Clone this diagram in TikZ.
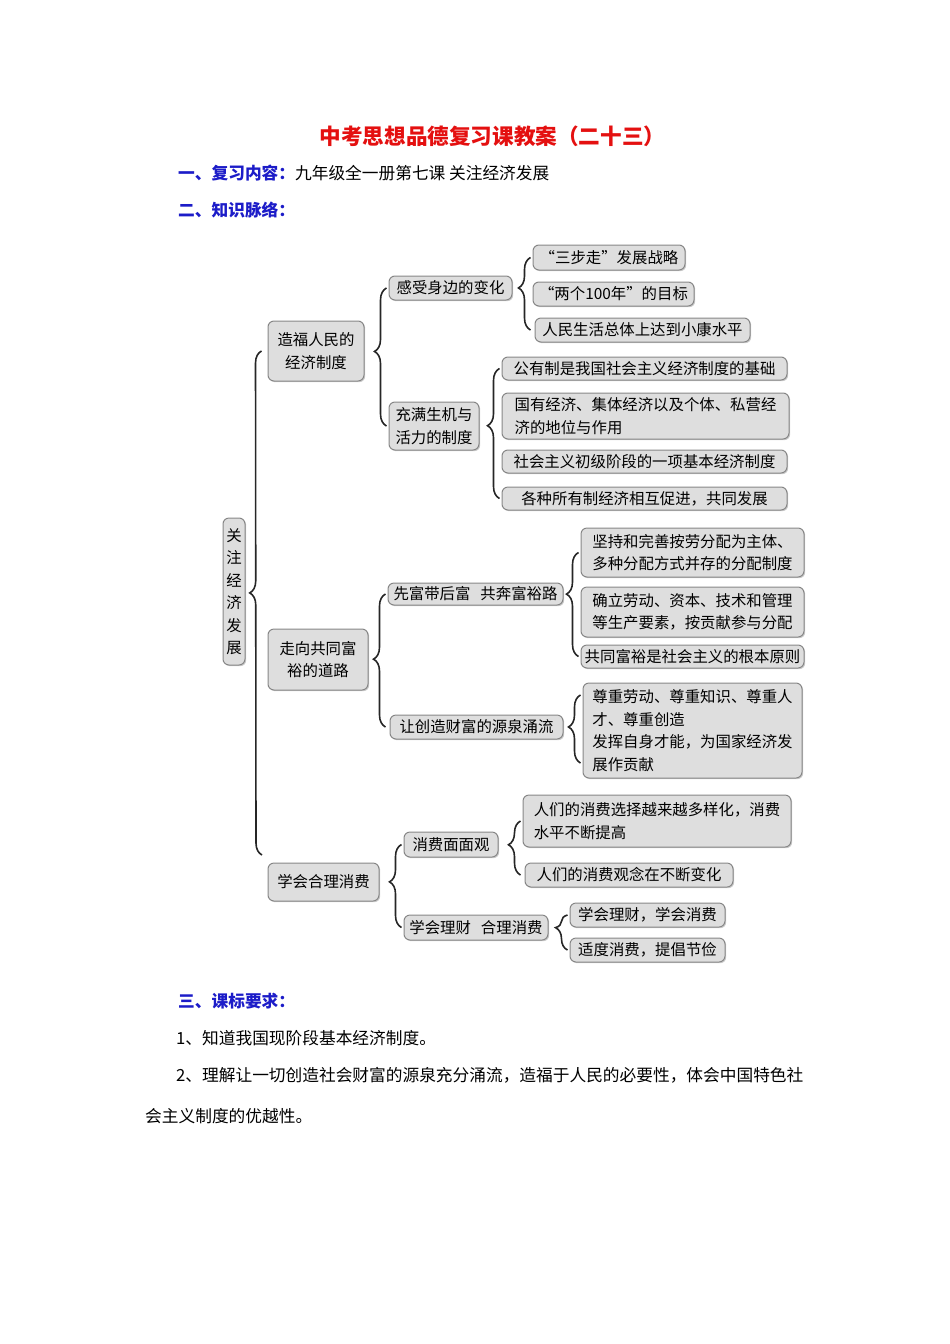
\documentclass[tikz,border=0pt]{standalone}
\usepackage{fontspec}
\setmainfont{Noto Sans CJK SC}
\usetikzlibrary{decorations.pathreplacing,shadows}
\definecolor{biaotihong}{RGB}{228,16,16}
\definecolor{biaotilan}{RGB}{28,28,200}
\definecolor{kuangdi}{RGB}{222,222,222}
\definecolor{kuangbian}{RGB}{135,135,135}

\begin{document}
\begin{tikzpicture}[x=1pt,y=-1pt,
    kuang/.style={draw=kuangbian, fill=kuangdi, line width=1pt, rounded corners=6pt,
        inner sep=0pt, align=center, font=\fontsize{15.4}{22.5}\selectfont,
        drop shadow={shadow xshift=1.2pt, shadow yshift=-1.2pt, fill=black!40, opacity=0.5}},
    kuohao/.style={decorate, decoration={brace, amplitude=12pt}, draw=black!85, line width=1.6pt},
    wenzi/.style={anchor=west, inner sep=0pt, font=\fontsize{16.7}{20}\selectfont}]

    \useasboundingbox (0,0) rectangle (950,1344);

    % 标题和小标题
    \node[text=biaotihong, inner sep=0pt, font=\fontsize{21.6}{26}\selectfont\bfseries] (biaoti) at (492.5,136) {中考思想品德复习课教案（二十三）};
    \node[wenzi] (fuxi) at (178,173) {{\bfseries\color{biaotilan}一、复习内容：}九年级全一册第七课 关注经济发展};
    \node[wenzi, text=biaotilan, font=\fontsize{16.7}{20}\selectfont\bfseries] (mailuo) at (178,210) {二、知识脉络：};

    % 第一层
    \node[kuang, minimum width=22, minimum height=147] (guanzhu) at (234,591.5) {关\\注\\经\\济\\发\\展};
    \node[kuang, minimum width=96, minimum height=60] (zaofu) at (316,351) {造福人民的\\经济制度};
    \node[kuang, minimum width=100, minimum height=61] (zouxiang) at (318,659.5) {走向共同富\\裕的道路};
    \node[kuang, minimum width=111, minimum height=38] (xuehui) at (323.5,882) {学会合理消费};

    % 第二层
    \node[kuang, minimum width=123, minimum height=24] (ganshou) at (450.5,288) {感受身边的变化};
    \node[kuang, minimum width=90, minimum height=48] (chongman) at (434,426) {充满生机与\\活力的制度};
    \node[kuang, minimum width=175, minimum height=22] (xianfu) at (475.5,594) {先富带后富\hspace{10pt}共奔富裕路};
    \node[kuang, minimum width=173, minimum height=24] (rangchuang) at (476.5,727) {让创造财富的源泉涌流};
    \node[kuang, minimum width=94, minimum height=25] (xiaofei) at (451,844.5) {消费面面观};
    \node[kuang, minimum width=144, minimum height=25] (licai) at (476,927.5) {学会理财\hspace{10pt}合理消费};

    % 第三层
    \node[kuang, minimum width=152, minimum height=25] (sanbu) at (609,257.5) {“三步走”发展战略};
    \node[kuang, minimum width=161, minimum height=24] (liangge) at (613.5,294) {“两个100年”的目标};
    \node[kuang, minimum width=215, minimum height=24] (xiaokang) at (642.5,330) {人民生活总体上达到小康水平};
    \node[kuang, minimum width=285, minimum height=23] (gongyou) at (644.5,368.5) {公有制是我国社会主义经济制度的基础};
    \node[kuang, align=left, minimum width=287, minimum height=46] (guoyou) at (645.5,416) {国有经济、集体经济以及个体、私营经\\济的地位与作用};
    \node[kuang, minimum width=285, minimum height=23] (chuji) at (644.5,461.5) {社会主义初级阶段的一项基本经济制度};
    \node[kuang, minimum width=285, minimum height=23] (gezhong) at (644.5,498.5) {各种所有制经济相互促进，共同发展};
    \node[kuang, align=left, minimum width=223, minimum height=49] (jianchi) at (692.5,552.5) {坚持和完善按劳分配为主体、\\多种分配方式并存的分配制度};
    \node[kuang, align=left, minimum width=223, minimum height=50] (queli) at (692.5,612) {确立劳动、资本、技术和管理\\等生产要素，按贡献参与分配};
    \node[kuang, minimum width=223, minimum height=23] (gongtong) at (692.5,656.5) {共同富裕是社会主义的根本原则};
    \node[kuang, align=left, minimum width=219, minimum height=95] (zunzhong) at (692.5,730.5) {尊重劳动、尊重知识、尊重人\\才、尊重创造\\发挥自身才能，为国家经济发\\展作贡献};
    \node[kuang, align=left, minimum width=268, minimum height=52] (duoyang) at (657,821) {人们的消费选择越来越多样化，消费\\水平不断提高};
    \node[kuang, minimum width=208, minimum height=24] (guannian) at (629,875) {人们的消费观念在不断变化};
    \node[kuang, minimum width=155, minimum height=24] (xuelicai) at (647.5,915) {学会理财，学会消费};
    \node[kuang, minimum width=155, minimum height=24] (jiejian) at (647.5,950) {适度消费，提倡节俭};

    % 大括号
    \coordinate (gen-shang) at ([xshift=-6pt]zaofu.west);
    \coordinate (gen-xia) at (262,855);
    \draw[kuohao, decoration={aspect=0.52}] (gen-xia) -- (gen-shang);
    \draw[kuohao, decoration={aspect=0.54}] ([xshift=-2pt]ganshou.west |- chongman.west) -- ([xshift=-2pt]ganshou.west);
    \draw[kuohao, decoration={aspect=0.58}] ([xshift=-2pt]sanbu.west |- xiaokang.west) -- ([xshift=-2pt]sanbu.west);
    \draw[kuohao, decoration={aspect=0.56}] ([xshift=-2pt]gongyou.west |- gezhong.west) -- ([xshift=-2pt]gongyou.west);
    \draw[kuohao, decoration={aspect=0.51}] ([xshift=-2pt]xianfu.west |- rangchuang.west) -- ([xshift=-2pt]xianfu.west);
    \draw[kuohao, decoration={aspect=0.6}] ([xshift=-2pt]jianchi.west |- gongtong.west) -- ([xshift=-2pt]jianchi.west);
    \draw[kuohao, decoration={aspect=0.53}] ([xshift=-2pt,yshift=-32.5pt]zunzhong.west) -- ([xshift=-2pt,yshift=35.5pt]zunzhong.west);
    \draw[kuohao, decoration={aspect=0.55}] ([xshift=-2pt]xiaofei.west |- licai.west) -- ([xshift=-2pt]xiaofei.west);
    \draw[kuohao, decoration={aspect=0.56}] ([xshift=-2pt]duoyang.west |- guannian.west) -- ([xshift=-2pt]duoyang.west);
    \draw[kuohao, decoration={aspect=0.64}] ([xshift=-2pt]xuelicai.west |- jiejian.west) -- ([xshift=-2pt]xuelicai.west);

    % 课标要求
    \node[wenzi, text=biaotilan, font=\fontsize{16.7}{20}\selectfont\bfseries] (kebiao) at (178,1001) {三、课标要求：};
    \node[wenzi] (yaoqiu1) at (176,1038) {1、知道我国现阶段基本经济制度。};
    \node[wenzi] (yaoqiu2) at (176,1075) {2、理解让一切创造社会财富的源泉充分涌流，造福于人民的必要性，体会中国特色社};
    \node[wenzi] (yaoqiu2b) at (145,1116) {会主义制度的优越性。};
\end{tikzpicture}
\end{document}
